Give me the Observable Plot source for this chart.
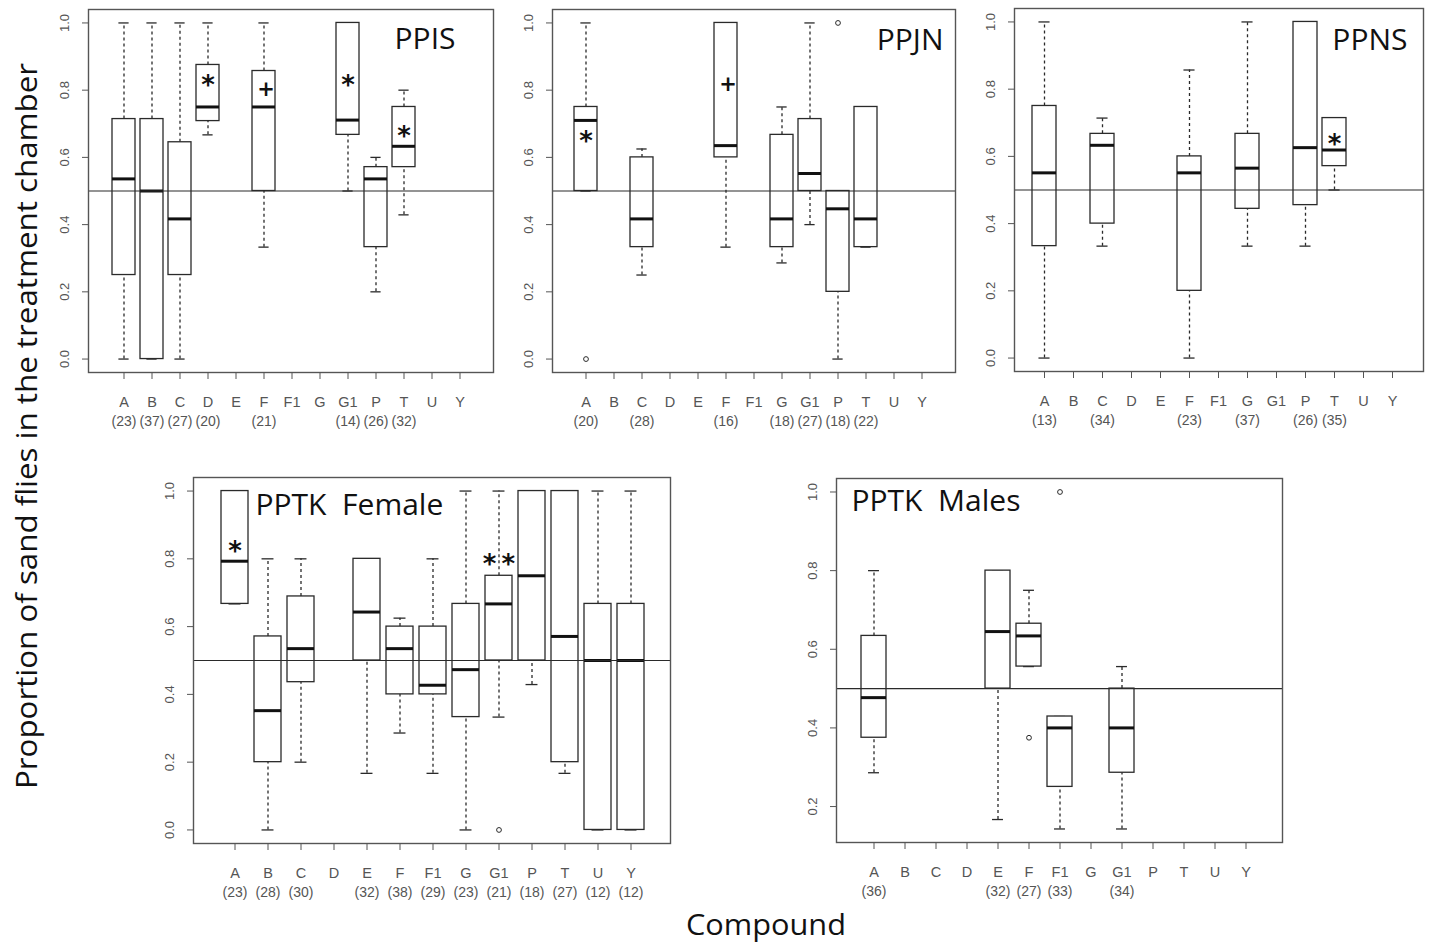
<!DOCTYPE html>
<html><head><meta charset="utf-8">
<script src="https://cdn.jsdelivr.net/npm/d3@7"></script>
<script src="https://cdn.jsdelivr.net/npm/@observablehq/plot@0.6"></script>
<style>
body{margin:0;background:#fff;}
#wrap{position:relative;width:1431px;height:945px;overflow:hidden;background:#fff;}
</style></head><body><div id="wrap"></div>
<script>
// ---- data ----
const compounds = ["A","B","C","D","E","F","F1","G","G1","P","T","U","Y"];

const ppisCats = ["A","B","C","D","F","G1","P","T"];
const ppisN    = [23,37,27,20,21,14,26,32];
const ppisLo   = [0,0,0,0.667,0.333,0.5,0.2,0.429];
const ppisQ1   = [0.25,0,0.25,0.708,0.5,0.667,0.333,0.571];
const ppisMed  = [0.536,0.5,0.417,0.75,0.75,0.711,0.536,0.633];
const ppisQ3   = [0.714,0.714,0.645,0.875,0.857,1.0,0.571,0.75];
const ppisHi   = [1,1,1,1,1,1,0.6,0.8];
const ppisOutCats = [];
const ppisOutVals = [];
const ppisNoteCats = ["D","F","G1","T"];
const ppisNoteVals = [0.83,0.805,0.83,0.68];
const ppisNoteText = ["*","+","*","*"];

const ppjnCats = ["A","C","F","G","G1","P","T"];
const ppjnN    = [20,28,16,18,27,18,22];
const ppjnLo   = [0.5,0.25,0.333,0.286,0.4,0,0.333];
const ppjnQ1   = [0.5,0.333,0.6,0.333,0.5,0.2,0.333];
const ppjnMed  = [0.71,0.417,0.635,0.417,0.552,0.447,0.417];
const ppjnQ3   = [0.75,0.6,1.0,0.667,0.714,0.5,0.75];
const ppjnHi   = [1,0.625,1,0.75,1,0.5,0.75];
const ppjnOutCats = ["A","P"];
const ppjnOutVals = [0,1];
const ppjnNoteCats = ["A","F"];
const ppjnNoteVals = [0.665,0.82];
const ppjnNoteText = ["*","+"];

const ppnsCats = ["A","C","F","G","P","T"];
const ppnsN    = [13,34,23,37,26,35];
const ppnsLo   = [0,0.333,0,0.333,0.333,0.5];
const ppnsQ1   = [0.333,0.4,0.2,0.444,0.455,0.571];
const ppnsMed  = [0.551,0.633,0.551,0.565,0.626,0.619];
const ppnsQ3   = [0.75,0.667,0.6,0.667,1.0,0.714];
const ppnsHi   = [1,0.714,0.857,1,1,0.714];
const ppnsOutCats = [];
const ppnsOutVals = [];
const ppnsNoteCats = ["T"];
const ppnsNoteVals = [0.654];
const ppnsNoteText = ["*"];

const femCats = ["A","B","C","E","F","F1","G","G1","P","T","U","Y"];
const femN    = [23,28,30,32,38,29,23,21,18,27,12,12];
const femLo   = [0.667,0,0.2,0.167,0.286,0.167,0,0.333,0.429,0.167,0,0];
const femQ1   = [0.667,0.2,0.436,0.5,0.4,0.4,0.333,0.5,0.5,0.2,0,0];
const femMed  = [0.793,0.352,0.535,0.643,0.535,0.427,0.473,0.667,0.75,0.571,0.5,0.5];
const femQ3   = [1,0.571,0.689,0.8,0.6,0.6,0.667,0.75,1,1,0.667,0.667];
const femHi   = [1,0.8,0.8,0.8,0.625,0.8,1,1,1,1,1,1];
const femOutCats = ["G1"];
const femOutVals = [0];
const femNoteCats = ["A","G1"];
const femNoteVals = [0.84,0.80];
const femNoteText = ["*","*\u2009*"];

const maleCats = ["A","E","F","F1","G1"];
const maleN    = [36,32,27,33,34];
const maleLo   = [0.286,0.167,0.556,0.143,0.143];
const maleQ1   = [0.375,0.5,0.556,0.25,0.286];
const maleMed  = [0.477,0.645,0.634,0.4,0.4];
const maleQ3   = [0.634,0.8,0.665,0.429,0.5];
const maleHi   = [0.8,0.8,0.75,0.429,0.556];
const maleOutCats = ["F","F1"];
const maleOutVals = [0.375,1.0];
const maleNoteCats = [];
const maleNoteVals = [];
const maleNoteText = [];

const yTicksFull = [0,0.2,0.4,0.6,0.8,1.0];
const yTicksMale = [0.2,0.4,0.6,0.8,1.0];
const yLabel = "Proportion of sand flies in the treatment chamber";
const xLabel = "Compound";

// ---- drawing ----
const wrap = document.getElementById("wrap");
const INK = "#2a2a2a";

function drawPanel(p) {
  const L = p.layout;
  const ml = L.frame[0] - L.left, mr = L.left + L.width - L.frame[1];
  const mt = L.frame[2] - L.top, mb = L.top + L.height - L.frame[3];
  const step = (L.tickY - L.tickA) / (compounds.length - 1);
  const range = [L.tickA - L.left - step / 2, L.tickY - L.left + step / 2];
  const pad = 0.18;
  const bw = step * (1 - pad);
  const capInset = bw * 0.27;
  const rows = p.cats.map((c, i) => ({cat: c, n: p.n[i], lo: p.lo[i], q1: p.q1[i], med: p.med[i], q3: p.q3[i], hi: p.hi[i]}));
  const countOf = new Map(rows.map(r => [r.cat, r.n]));
  const outliers = p.outCats.map((c, i) => ({cat: c, v: p.outVals[i]}));
  const notes = p.noteCats.map((c, i) => ({cat: c, v: p.noteVals[i], t: p.noteText[i]}));
  const svg = Plot.plot({
    width: L.width, height: L.height,
    marginLeft: ml, marginRight: mr, marginTop: mt, marginBottom: mb,
    style: {fontFamily: "'Liberation Sans', Arial, sans-serif", background: "transparent", overflow: "visible"},
    x: {type: "band", domain: compounds, range, paddingInner: pad, paddingOuter: pad / 2, align: 0.5, label: null},
    y: {domain: p.ydomain, label: null},
    marks: [
      Plot.ruleX(rows.filter(r => r.lo < r.q1), {x: "cat", y1: "lo", y2: "q1", stroke: INK, strokeWidth: 1.3, strokeDasharray: "3,3"}),
      Plot.ruleX(rows.filter(r => r.hi > r.q3), {x: "cat", y1: "q3", y2: "hi", stroke: INK, strokeWidth: 1.3, strokeDasharray: "3,3"}),
      Plot.tickY(rows, {x: "cat", y: "lo", stroke: INK, strokeWidth: 1.3, insetLeft: capInset, insetRight: capInset}),
      Plot.tickY(rows, {x: "cat", y: "hi", stroke: INK, strokeWidth: 1.3, insetLeft: capInset, insetRight: capInset}),
      Plot.barY(rows, {x: "cat", y1: "q1", y2: "q3", fill: "white", stroke: INK, strokeWidth: 1.3}),
      Plot.tickY(rows, {x: "cat", y: "med", stroke: "#111", strokeWidth: 3}),
      Plot.dot(outliers, {x: "cat", y: "v", r: 2.4, stroke: INK, fill: "none", strokeWidth: 1}),
      Plot.ruleY([0.5], {stroke: INK, strokeWidth: 1.1}),
      Plot.frame({stroke: "#555", strokeWidth: 1.4}),
      Plot.axisY({ticks: p.yticks, tickFormat: d3.format(".1f"), tickSize: 6, tickRotate: -90, tickPadding: 14, fontSize: 13, color: "#555", label: null}),
      Plot.axisX({tickSize: 7, tickPadding: 17, fontSize: 14.5, color: "#555", label: null}),
      Plot.axisX({tickSize: 0, tickPadding: 44, fontSize: 14, color: "#555", label: null, tickFormat: d => countOf.has(d) ? `(${countOf.get(d)})` : ""}),
      Plot.text(notes.filter(d => d.t !== "+"), {x: "cat", y: "v", text: "t", fontSize: 26, fontWeight: "bold", fill: "#111", fontFamily: "'DejaVu Sans', sans-serif", dy: 6}),
      Plot.text(notes.filter(d => d.t === "+"), {x: "cat", y: "v", text: "t", fontSize: 21, fontWeight: "bold", fill: "#111", fontFamily: "'DejaVu Sans', sans-serif", dx: 2, dy: 1}),
      Plot.text([p.title], {frameAnchor: p.titleAnchor, textAnchor: p.titleAnchor === "top-left" ? "start" : "end", lineAnchor: "top", dx: p.titleDx, dy: p.titleDy, fontSize: 30, fill: "#111", fontFamily: "'Open Sans', sans-serif"})
    ]
  });
  svg.style.position = "absolute";
  svg.style.left = L.left + "px";
  svg.style.top = L.top + "px";
  wrap.appendChild(svg);
}

drawPanel({title: "PPIS", titleAnchor: "top-right", titleDx: -38, titleDy: 18,
  cats: ppisCats, n: ppisN, lo: ppisLo, q1: ppisQ1, med: ppisMed, q3: ppisQ3, hi: ppisHi,
  outCats: ppisOutCats, outVals: ppisOutVals, noteCats: ppisNoteCats, noteVals: ppisNoteVals, noteText: ppisNoteText,
  ydomain: [-0.04, 1.04], yticks: yTicksFull,
  layout: {left: 30, top: 0, width: 470, height: 440, frame: [88, 493, 9, 372], tickA: 118.3, tickY: 465}});

drawPanel({title: "PPJN", titleAnchor: "top-right", titleDx: -12, titleDy: 19,
  cats: ppjnCats, n: ppjnN, lo: ppjnLo, q1: ppjnQ1, med: ppjnMed, q3: ppjnQ3, hi: ppjnHi,
  outCats: ppjnOutCats, outVals: ppjnOutVals, noteCats: ppjnNoteCats, noteVals: ppjnNoteVals, noteText: ppjnNoteText,
  ydomain: [-0.04, 1.04], yticks: yTicksFull,
  layout: {left: 500, top: 0, width: 460, height: 440, frame: [552, 955, 9, 372], tickA: 580.7, tickY: 925.7}});

drawPanel({title: "PPNS", titleAnchor: "top-right", titleDx: -16, titleDy: 20,
  cats: ppnsCats, n: ppnsN, lo: ppnsLo, q1: ppnsQ1, med: ppnsMed, q3: ppnsQ3, hi: ppnsHi,
  outCats: ppnsOutCats, outVals: ppnsOutVals, noteCats: ppnsNoteCats, noteVals: ppnsNoteVals, noteText: ppnsNoteText,
  ydomain: [-0.04, 1.04], yticks: yTicksFull,
  layout: {left: 962, top: 0, width: 469, height: 440, frame: [1014, 1423, 8, 371], tickA: 1043.3, tickY: 1393.3}});

drawPanel({title: "PPTK\u00a0\u00a0Female", titleAnchor: "top-left", titleDx: 62, titleDy: 16,
  cats: femCats, n: femN, lo: femLo, q1: femQ1, med: femMed, q3: femQ3, hi: femHi,
  outCats: femOutCats, outVals: femOutVals, noteCats: femNoteCats, noteVals: femNoteVals, noteText: femNoteText,
  ydomain: [-0.04, 1.04], yticks: yTicksFull,
  layout: {left: 140, top: 460, width: 540, height: 450, frame: [193, 670, 477, 843], tickA: 229, tickY: 636.7}});

drawPanel({title: "PPTK\u00a0\u00a0Males", titleAnchor: "top-left", titleDx: 15, titleDy: 11,
  cats: maleCats, n: maleN, lo: maleLo, q1: maleQ1, med: maleMed, q3: maleQ3, hi: maleHi,
  outCats: maleOutCats, outVals: maleOutVals, noteCats: maleNoteCats, noteVals: maleNoteVals, noteText: maleNoteText,
  ydomain: [0.1086, 1.0343], yticks: yTicksMale,
  layout: {left: 780, top: 460, width: 520, height: 450, frame: [836, 1282, 478, 842], tickA: 869, tickY: 1250}});

// outer axis titles
const ns = "http://www.w3.org/2000/svg";
const over = document.createElementNS(ns, "svg");
over.setAttribute("width", 1431); over.setAttribute("height", 945);
over.style.position = "absolute"; over.style.left = "0px"; over.style.top = "0px";
over.style.pointerEvents = "none";
const yl = document.createElementNS(ns, "text");
yl.setAttribute("transform", "translate(37,426) rotate(-90)");
yl.setAttribute("text-anchor", "middle");
yl.setAttribute("font-family", "'Open Sans', sans-serif");
yl.setAttribute("font-size", "29");
yl.setAttribute("textLength", "726");
yl.setAttribute("lengthAdjust", "spacingAndGlyphs");
yl.setAttribute("fill", "#111");
yl.textContent = yLabel;
over.appendChild(yl);
const xl = document.createElementNS(ns, "text");
xl.setAttribute("x", 766); xl.setAttribute("y", 935);
xl.setAttribute("text-anchor", "middle");
xl.setAttribute("font-family", "'Open Sans', sans-serif");
xl.setAttribute("font-size", "30");
xl.setAttribute("textLength", "160");
xl.setAttribute("lengthAdjust", "spacingAndGlyphs");
xl.setAttribute("fill", "#111");
xl.textContent = xLabel;
over.appendChild(xl);
wrap.appendChild(over);
</script>
</body></html>
